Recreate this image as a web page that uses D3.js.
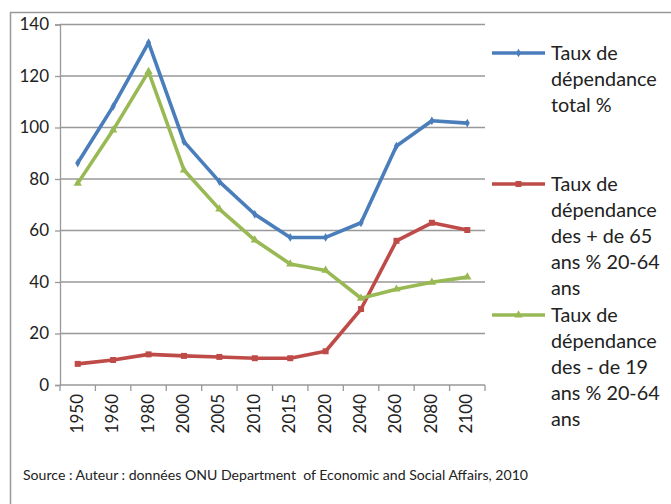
<!DOCTYPE html>
<html>
<head>
<meta charset="utf-8">
<script src="https://cdn.jsdelivr.net/npm/d3@7"></script>
<style>
  html, body { margin: 0; padding: 0; background: #fff; }
  svg text { font-family: Lato, "Open Sans", sans-serif; fill: #222; }
</style>
</head>
<body>
<svg id="chart" width="671" height="504"></svg>
<script>
// Years on the category axis
const years = ["1950", "1960", "1980", "2000", "2005", "2010", "2015", "2020", "2040", "2060", "2080", "2100"];

// Dependency ratios (%)
const totalRatio = [86.2, 108.2, 133, 94.5, 79, 66.3, 57.3, 57.3, 63, 92.8, 102.6, 101.7];
const elderRatio = [8.2, 9.7, 11.9, 11.3, 10.9, 10.4, 10.4, 13.1, 29.5, 56, 63, 60.2];
const youthRatio = [78.3, 99, 121.7, 83.5, 68.3, 56.3, 47, 44.5, 33.7, 37.2, 39.9, 41.9];

const yTicks = [0, 20, 40, 60, 80, 100, 120, 140];

const seriesNames = [
  ["Taux de", "dépendance", "total %"],
  ["Taux de", "dépendance", "des + de 65", "ans % 20-64", "ans"],
  ["Taux de", "dépendance", "des - de 19", "ans % 20-64", "ans"]
];
const seriesColors = ["#4a7ebb", "#be4b48", "#98b954"];
const seriesMarkers = ["diamond", "square", "triangle"];
const seriesData = [totalRatio, elderRatio, youthRatio];

const sourceText = "Source : Auteur : données ONU Department  of Economic and Social Affairs, 2010";

const svg = d3.select("#chart");

// Outer frame
svg.append("rect")
  .attr("x", 10.5).attr("y", 12.5)
  .attr("width", 700).attr("height", 520)
  .attr("fill", "none").attr("stroke", "#999").attr("stroke-width", 1.5);

const plot = { left: 60, right: 485, top: 24.5, bottom: 385 };

const x = d3.scaleBand().domain(years).range([plot.left, plot.right]);
const y = d3.scaleLinear().domain([0, 140]).range([plot.bottom, plot.top]);

// Horizontal gridlines
svg.append("g").selectAll("line").data(yTicks.filter(d => d > 0)).join("line")
  .attr("x1", plot.left).attr("x2", plot.right)
  .attr("y1", d => y(d)).attr("y2", d => y(d))
  .attr("stroke", "#999").attr("stroke-width", 1.3);

// Y axis
const yAxis = svg.append("g")
  .attr("transform", `translate(${plot.left},0)`)
  .call(d3.axisLeft(y).tickValues(yTicks).tickSize(5).tickPadding(6));
yAxis.select(".domain").attr("stroke", "#999").attr("stroke-width", 1.3);
yAxis.selectAll(".tick line").attr("stroke", "#999").attr("stroke-width", 1.3);
yAxis.selectAll("text").style("font-size", "17px").attr("fill", "#222");

// X axis with ticks at category boundaries
const xAxis = svg.append("g").attr("transform", `translate(0,${plot.bottom})`);
xAxis.append("line")
  .attr("x1", plot.left).attr("x2", plot.right)
  .attr("stroke", "#999").attr("stroke-width", 1.3);
const boundaries = years.map(d => x(d)).concat([x(years[years.length - 1]) + x.bandwidth()]);
xAxis.selectAll(".bt").data(boundaries).join("line")
  .attr("class", "bt")
  .attr("x1", d => d).attr("x2", d => d)
  .attr("y1", 0).attr("y2", 6)
  .attr("stroke", "#999").attr("stroke-width", 1.3);
xAxis.selectAll(".lbl").data(years).join("text")
  .attr("class", "lbl")
  .attr("transform", d => `translate(${x(d) + x.bandwidth() / 2 + 5},9) rotate(-90)`)
  .attr("text-anchor", "end")
  .style("font-size", "17px")
  .text(d => d);

// Marker shapes
const symbolFor = {
  diamond: d3.symbol().type(d3.symbolDiamond).size(22),
  square: d3.symbol().type(d3.symbolSquare).size(36),
  triangle: d3.symbol().type(d3.symbolTriangle).size(30)
};

const line = d3.line()
  .x((d, i) => x(years[i]) + x.bandwidth() / 2)
  .y(d => y(d));

seriesData.forEach((vals, s) => {
  svg.append("path")
    .datum(vals)
    .attr("d", line)
    .attr("fill", "none")
    .attr("stroke", seriesColors[s])
    .attr("stroke-width", 3.6)
    .attr("stroke-linejoin", "round");
  svg.append("g").selectAll("path").data(vals).join("path")
    .attr("transform", (d, i) => `translate(${x(years[i]) + x.bandwidth() / 2},${y(d)})`)
    .attr("d", symbolFor[seriesMarkers[s]]())
    .attr("fill", seriesColors[s]);
});

// Legend
const legendTops = [53, 184, 315];
const lineH = 26;
seriesNames.forEach((lines, s) => {
  const g = svg.append("g").attr("transform", `translate(0,${legendTops[s]})`);
  g.append("line")
    .attr("x1", 492).attr("x2", 545).attr("y1", 0).attr("y2", 0)
    .attr("stroke", seriesColors[s]).attr("stroke-width", 3.6);
  g.append("path")
    .attr("transform", "translate(518.5,0)")
    .attr("d", symbolFor[seriesMarkers[s]]())
    .attr("fill", seriesColors[s]);
  const t = g.append("text").attr("x", 551).attr("y", 7).style("font-size", "19.8px");
  lines.forEach((ln, i) => {
    t.append("tspan").attr("x", 551).attr("dy", i === 0 ? 0 : lineH).text(ln);
  });
});

// Source note (keeps the double space)
svg.append("text")
  .attr("x", 23).attr("y", 480)
  .style("font-size", "14.1px")
  .style("white-space", "pre")
  .text(sourceText);
</script>
</body>
</html>
